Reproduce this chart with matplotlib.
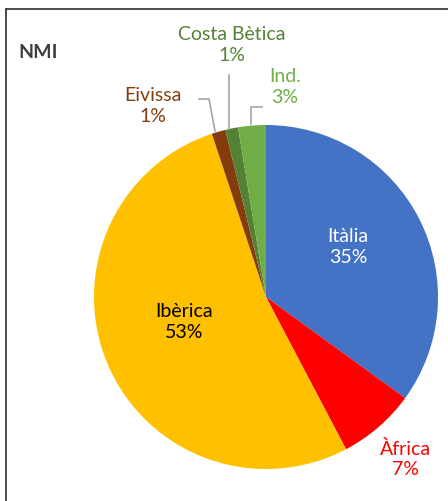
import matplotlib.pyplot as plt
from matplotlib.lines import Line2D

plt.rcParams['font.family'] = ['Lato', 'DejaVu Sans']

# data (clockwise from 12 o'clock)
regions = ["Itàlia", "Àfrica", "Ibèrica", "Eivissa", "Costa Bètica", "Ind."]
shares = [35.0, 7.3, 52.6, 1.3, 1.2, 2.6]
colors = ["#4472C4", "#FF0000", "#FFC000", "#843C0C", "#548235", "#70AD47"]
label_colors = ["white", "#FF0000", "black", "#843C0C", "#548235", "#70AD47"]

W, H = 448, 501
fig = plt.figure(figsize=(W / 100, H / 100), dpi=100)
ax = fig.add_axes([0, 0, 1, 1])

cx, cy, r = 266, H - 297, 172
ax.pie(shares, colors=colors, startangle=90, counterclock=False,
       center=(cx, cy), radius=r, frame=True,
       wedgeprops={"linewidth": 0})
ax.set_xlim(0, W)
ax.set_ylim(0, H)
ax.set_aspect("equal")
ax.axis("off")

# label positions in pixels (x, y from top)
label_pos = [(348, 247), (405, 459), (184, 322), (153, 106), (232, 45), (285, 87)]
for name, v, c, (x, y) in zip(regions, shares, label_colors, label_pos):
    ax.text(x, H - y, f"{name}\n{v:.0f}%", color=c, fontsize=14,
            ha="center", va="center", linespacing=1.25)

# leader lines
gray = "#A6A6A6"
leaders = [
    [(199, 99), (209, 99), (215, 131)],
    [(229, 75), (229, 129)],
    [(262, 107), (251, 107), (251, 124)],
]
for pts in leaders:
    ax.plot([p[0] for p in pts], [H - p[1] for p in pts], color=gray, lw=1.2)

ax.text(38, H - 52, "NMI", color="#404040", fontsize=14, fontweight="bold",
        ha="center", va="center")

# outer frame (only left and top visible)
fig.add_artist(Line2D([5.5 / W, 5.5 / W], [0, 1 - 9 / H], color="#404040", lw=1.3,
                      transform=fig.transFigure))
fig.add_artist(Line2D([5.5 / W, 1], [1 - 9 / H, 1 - 9 / H], color="#404040", lw=1.3,
                      transform=fig.transFigure))

fig.savefig("out.png", dpi=100, facecolor="white")
